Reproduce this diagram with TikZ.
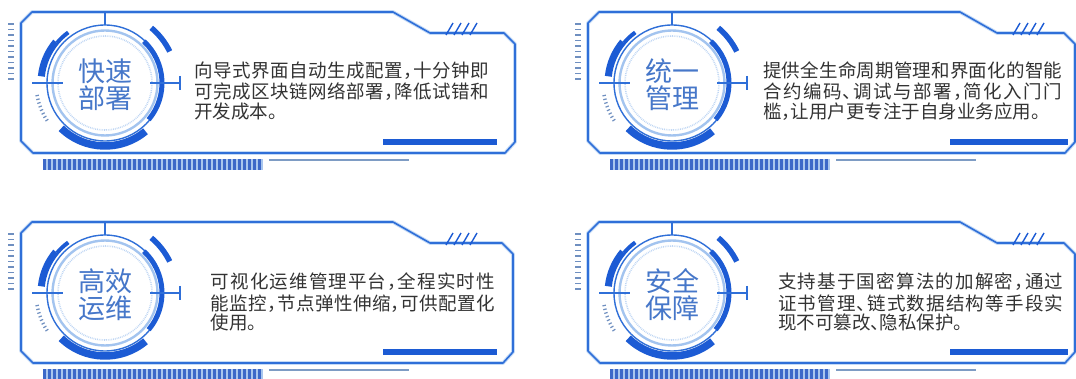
\documentclass[tikz,border=0pt]{standalone}
\usepackage{fontspec}
\newfontfamily\cjk[RawFeature=+halt]{Noto Sans CJK SC}
\definecolor{frameblue}{HTML}{2F6FD8}
\definecolor{halo}{HTML}{C4DAF6}
\definecolor{deepblue}{HTML}{1C5BD4}
\definecolor{ringlight}{HTML}{A3C4EF}
\definecolor{titleblue}{HTML}{4677C9}
\definecolor{bodygray}{HTML}{333333}
\definecolor{steel}{HTML}{7E9CC4}
\definecolor{stripe}{HTML}{3C68C8}
\definecolor{stripelight}{HTML}{A9C6EE}
\definecolor{tickcol}{HTML}{6F8FC0}

\newskip\cjkglue \cjkglue=0pt plus 1fil minus 4pt
\ExplSyntaxOn
\NewDocumentCommand\jline{mm}{\makebox[#1][s]{\tl_map_inline:nn{#2}{##1\hskip\cjkglue}\unskip}}
\ExplSyntaxOff

\tikzset{
  framehalo/.style={draw=halo, line width=3.6pt, line join=round},
  frameline/.style={draw=frameblue, line width=1.6pt, line join=round},
  cardtitle/.style={font=\cjk\fontsize{27}{27}\selectfont, text=titleblue, align=center, inner sep=0pt},
  cardtext/.style={font=\cjk\fontsize{18.5}{20}\selectfont, text=bodygray, inner sep=0pt, anchor=base west},
}

\newcommand\framepath[1]{(21,23) -- (32,12) -- (393,12) -- (430,33) -- ({#1-11},33) -- (#1,44) -- (#1,142) -- ({#1-10},153) -- (33,153) -- (21,141) -- cycle}
% ring arc: id, radius, angle1, angle2, width, colour
\newcommand\ringarc[6]{\draw[#6, line width=#5] ([shift={({0-(#3)}:#2)}]c#1) arc[start angle={0-(#3)}, end angle={0-(#4)}, radius=#2];}

\newcommand\cardart[3]{% #1 right edge, #2 bar end, #3 id
  \coordinate (c#3) at (105,83);
  \path[framehalo] \framepath{#1};
  \path[frameline] \framepath{#1};
  % bottom inner bar
  \draw[deepblue, line width=6pt] (383,142) -- (#2,142);
  % slashes
  \foreach \k in {0,...,3} \draw[deepblue, line width=1.4pt] ({446+8*\k},35) -- ({453+8*\k},23);
  % left tick column
  \foreach \k in {0,...,10} \draw[tickcol, line width=1.3pt] (8,{24+5.5*\k}) -- (14,{24+5.5*\k});
  % striped bar and light line below
  \foreach \k in {0,...,43} {\fill[stripelight] ({43+5*\k},159) rectangle ({48+5*\k},170);
    \fill[stripe] ({43+5*\k},159) rectangle ({45.8+5*\k},170);}
  \draw[steel, line width=2.5pt] (269,160) -- (409,160);
  % rings
  \draw[ringlight!70, line width=1.6pt, dash pattern=on 0.8pt off 1pt] (c#3) circle[radius=47];
  \draw[ringlight, line width=2.4pt] (c#3) circle[radius=52.5];
  \draw[frameblue, line width=1.4pt] (c#3) circle[radius=58];
  % thick arcs
  \ringarc{#3}{64}{140}{174}{7pt}{deepblue}
  \ringarc{#3}{62.5}{126}{140}{4pt}{deepblue}
  \ringarc{#3}{72}{26}{50}{5.5pt}{deepblue}
  \ringarc{#3}{57}{-40}{47}{5pt}{deepblue}
  \ringarc{#3}{63}{-134}{-50}{7.5pt}{deepblue}
  \draw[tickcol, line width=3.5pt, dash pattern=on 1.2pt off 2.6pt] ([shift={(-190:69)}]c#3) arc[start angle=-190, end angle=-215, radius=69];
  % crosshair
  \draw[frameblue, line width=1.4pt] (32,83) -- (63,83) (150,83) -- (180,83) (180,76) -- (180,90) (105,12) -- (105,25);
}

\begin{document}
\begin{tikzpicture}[x=1pt,y=-1pt]
\useasboundingbox (0,0) rectangle (1076,379);
\fill[white] (0,0) rectangle (1076,379);

% card 1
\begin{scope}
  \cardart{515}{497}{1}
  \node[cardtitle] (t1) at (105,85) {快速\\部署};
  \node[cardtext] (a1) at (194,77.7) {\jline{295pt}{向导式界面自动生成配置，十分钟即}};
  \node[cardtext] (b1) at (194,98.7) {\jline{295pt}{可完成区块链网络部署，降低试错和}};
  \node[cardtext] (d1) at (194,118.7) {开发成本。};
\end{scope}

% card 2
\begin{scope}[shift={(567,0)}]
  \cardart{508}{501}{2}
  \node[cardtitle] (t2) at (105,85) {统一\\管理};
  \node[cardtext] (a2) at (196,77.7) {\jline{299pt}{提供全生命周期管理和界面化的智能}};
  \node[cardtext] (b2) at (196,98.7) {\jline{299pt}{合约编码、调试与部署，简化入门门}};
  \node[cardtext] (d2) at (196,118.7) {槛，让用户更专注于自身业务应用。};
\end{scope}

% card 3
\begin{scope}[shift={(0,210)}]
  \cardart{513}{497}{3}
  \node[cardtitle] (t3) at (105,85) {高效\\运维};
  \node[cardtext] (a3) at (210.7,79) {\jline{284pt}{可视化运维管理平台，全程实时性}};
  \node[cardtext] (b3) at (210.7,100) {\jline{284pt}{能监控，节点弹性伸缩，可供配置化}};
  \node[cardtext] (d3) at (210.7,120) {使用。};
\end{scope}

% card 4
\begin{scope}[shift={(567,210)}]
  \cardart{508}{501}{4}
  \node[cardtitle] (t4) at (105,85) {安全\\保障};
  \node[cardtext] (a4) at (211,79) {\jline{285pt}{支持基于国密算法的加解密，通过}};
  \node[cardtext] (b4) at (211,100) {\jline{285pt}{证书管理、链式数据结构等手段实}};
  \node[cardtext] (d4) at (211,120) {现不可篡改、隐私保护。};
\end{scope}
\end{tikzpicture}
\end{document}
